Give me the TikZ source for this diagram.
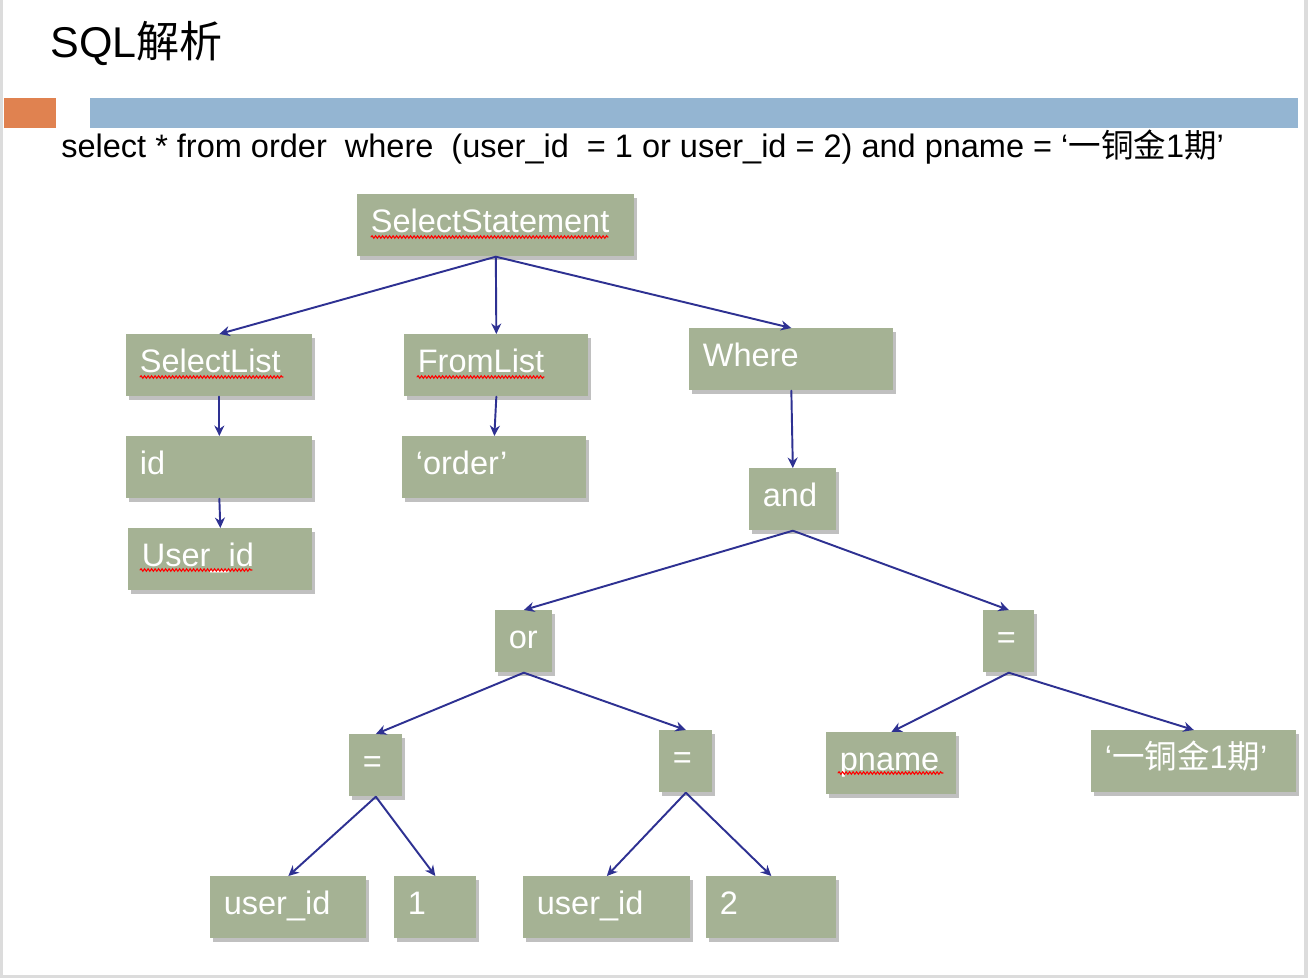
\documentclass[tikz,border=0pt]{standalone}
\usepackage{fontspec}
\setmainfont{Liberation Sans}
\newfontfamily\cjk{Noto Sans CJK SC}
\usepackage{tikz}
\usetikzlibrary{arrows.meta,shadows,decorations.pathmorphing}
\usepackage{xcolor}
\definecolor{boxgreen}{RGB}{165,178,148}
\definecolor{linkblue}{RGB}{46,49,146}
\definecolor{barblue}{RGB}{148,181,210}
\definecolor{barorange}{RGB}{224,130,80}
\definecolor{framegray}{RGB}{220,220,220}

\begin{document}
\begin{tikzpicture}[x=0.02cm,y=-0.02cm,line cap=round,
  box/.style={anchor=north west,fill=boxgreen,text=white,text width=#1,align=left,
    minimum height=1.24cm,inner xsep=0.27cm,inner ysep=0pt,
    text height=0.48cm,text depth=0.2cm,
    font=\fontsize{18.5}{22}\selectfont,
    drop shadow={shadow xshift=0.05cm,shadow yshift=-0.07cm,opacity=0.35,fill=black!70}},
  link/.style={-{Stealth[length=2.1mm,width=2mm]},linkblue,line width=1.1pt},
  wavy/.style={red,line width=0.6pt,decorate,decoration={snake,segment length=0.07cm,amplitude=0.025cm}}]
\useasboundingbox (0,0) rectangle (1308,978);
\fill[framegray] (0,0) rectangle (1308,978);
\fill[white] (3,0) rectangle (1304,975);
\fill[barorange] (4,98) rectangle (56,128);
\fill[barblue] (90,98) rectangle (1298,128);
\node[anchor=west,inner sep=0pt,font=\fontsize{24.5}{28}\selectfont] (title) at (50,43) {SQL{\cjk 解析}};
\node[anchor=west,inner sep=0pt,font=\fontsize{18.5}{22}\selectfont] (query) at (61,147)
  {select * from order\ \ where\ \ (user\_id\ \ = 1 or user\_id = 2) and pname = ‘{\cjk 一铜金}1{\cjk 期}’};

\node[box=5cm] (stmt) at (357,194) {SelectStatement};
\node[box=3.18cm] (sellist) at (126,334) {SelectList};
\node[box=3.14cm] (fromlist) at (404,334) {FromList};
\node[box=3.54cm] (where) at (689,328) {Where};
\node[box=3.18cm] (colid) at (126,436) {id};
\node[box=3.14cm] (tbl) at (402,436) {‘order’};
\node[box=3.14cm] (colname) at (128,528) {User\_id};
\node[box=1.2cm] (andop) at (749,468) {and};
\node[box=0.6cm] (orop) at (495,610) {or};
\node[box=0.48cm] (eqr) at (983,610) {=};
\node[box=0.52cm] (eql) at (349,734) {=};
\node[box=0.52cm] (eqm) at (659,730) {=};
\node[box=2.06cm] (pname) at (826,732) {pname};
\node[box=3.56cm] (pval) at (1091,730) {‘{\cjk 一铜金}1{\cjk 期}’};
\node[box=2.58cm] (uida) at (210,876) {user\_id};
\node[box=1.1cm] (one) at (394,876) {1};
\node[box=2.8cm] (uidb) at (523,876) {user\_id};
\node[box=2.06cm] (two) at (706,876) {2};

\draw[wavy] (371,237) -- (608,237);
\draw[wavy] (140,377) -- (283,377);
\draw[wavy] (417,377) -- (544,377);
\draw[wavy] (140,570) -- (252,570);
\draw[wavy] (838,773) -- (943,773);

\draw[link] (stmt.south) -- (sellist.north);
\draw[link] (stmt.south) -- (fromlist.north);
\draw[link] (stmt.south) -- (where.north);
\draw[link] (sellist.south) -- (colid.north);
\draw[link] (fromlist.south) -- (tbl.north);
\draw[link] (colid.south) -- (colname.north);
\draw[link] (where.south) -- (andop.north);
\draw[link] (andop.south) -- (orop.north);
\draw[link] (andop.south) -- (eqr.north);
\draw[link] (orop.south) -- (eql.north);
\draw[link] (orop.south) -- (eqm.north);
\draw[link] (eqr.south) -- (pname.north);
\draw[link] (eqr.south) -- (pval.north);
\draw[link] (eql.south) -- (uida.north);
\draw[link] (eql.south) -- (one.north);
\draw[link] (eqm.south) -- (uidb.north);
\draw[link] (eqm.south) -- (two.north);
\end{tikzpicture}
\end{document}
